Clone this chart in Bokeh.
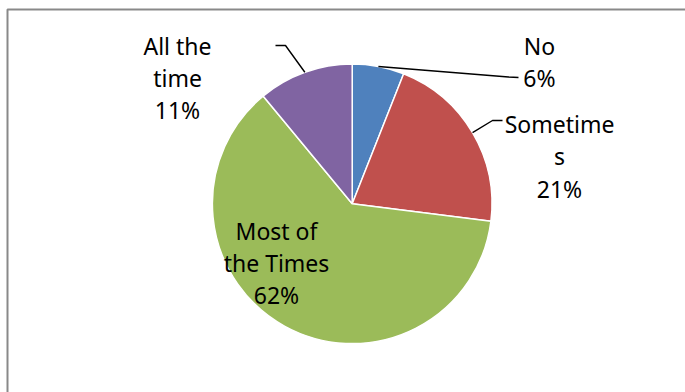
import math
from bokeh.plotting import figure
from bokeh.models import Range1d, ColumnDataSource
from bokeh.core.properties import value
from bokeh.embed import file_html
from bokeh.resources import INLINE

# ---- data ----
categories = ["No", "Sometimes", "Most of the Times", "All the time"]
percentages = [6, 21, 62, 11]
label_lines = [["No"], ["Sometime", "s"], ["Most of", "the Times"], ["All the", "time"]]
colors = ["#4F81BD", "#C0504D", "#9BBB59", "#8064A2"]

# ---- layout (pixels, y measured from the top of the window) ----
W, H = 685, 392
cx, cy = 351.7, 203.3
R = 139.8
label_x = [539, 559, 276, 177]
label_y0 = [45, 123.5, 230, 45]
line_step = 32.3
# leader elbows/ends per category (None = no leader)
leader_pts = [[(508, 76.5), (518, 77)], [(492, 120), (502, 120)], None, [(285, 45), (275, 45)]]

def fy(y):
    return H - y

p = figure(width=W, height=H, output_backend="svg", toolbar_location=None,
           x_range=Range1d(0, W), y_range=Range1d(0, H), min_border=0)
p.axis.visible = False
p.grid.visible = False
p.outline_line_color = None
p.background_fill_color = "white"
p.border_fill_color = "white"

# outer chart frame (clipped on right/bottom as in the reference)
p.quad(left=7, right=W + 20, top=fy(9), bottom=-20, fill_color=None,
       line_color="#898989", line_width=2)

# wedges
total = float(sum(percentages))
starts, ends, mids = [], [], []
cum = 0.0
for v in percentages:
    a0 = math.pi / 2 - 2 * math.pi * cum / total
    cum += v
    a1 = math.pi / 2 - 2 * math.pi * cum / total
    starts.append(a0)
    ends.append(a1)
    mids.append((a0 + a1) / 2)

src = ColumnDataSource(dict(start=starts, end=ends, color=colors, cat=categories))
p.wedge(x=cx, y=fy(cy), radius=R, start_angle="start", end_angle="end",
        direction="clock", fill_color="color", line_color="white",
        line_width=1.5, source=src)

# leader lines
xs, ys = [], []
for i, pts in enumerate(leader_pts):
    if pts is None:
        continue
    ex = cx + R * math.cos(mids[i])
    ey = fy(cy) + R * math.sin(mids[i])
    xs.append([ex] + [q[0] for q in pts])
    ys.append([ey] + [fy(q[1]) for q in pts])
p.multi_line(xs=xs, ys=ys, line_color="black", line_width=1.4)

# labels
tx, ty, tt = [], [], []
for i, lines in enumerate(label_lines):
    all_lines = lines + [f"{percentages[i]}%"]
    for k, t in enumerate(all_lines):
        tx.append(label_x[i])
        ty.append(fy(label_y0[i] + k * line_step))
        tt.append(t)
p.text(x=tx, y=ty, text=tt, text_align="center", text_baseline="alphabetic",
       text_font=value("Noto Sans"), text_font_size="23px", text_color="black")

open("out.html", "w").write(file_html(p, INLINE))
